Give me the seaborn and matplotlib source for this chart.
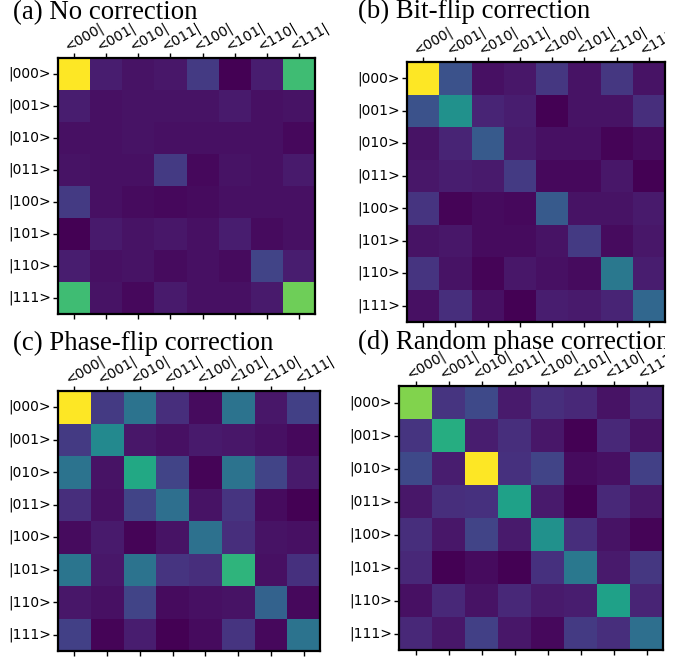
import numpy as np
import pandas as pd
import seaborn as sns
import matplotlib
matplotlib.use("Agg")
import matplotlib.pyplot as plt
from matplotlib.transforms import Bbox, TransformedBbox, ScaledTranslation

# Basis-state labels for the 3-qubit density matrices
bras = ["<000|", "<001|", "<010|", "<011|", "<100|", "<101|", "<110|", "<111|"]
kets = ["|000>", "|001>", "|010>", "|011>", "|100>", "|101>", "|110>", "|111>"]

titles = ["(a) No correction", "(b) Bit-flip correction",
          "(c) Phase-flip correction", "(d) Random phase correction"]

# Normalised matrix magnitudes, rows = kets, columns = bras
no_correction = [
    [1.00, 0.08, 0.05, 0.06, 0.17, 0.00, 0.08, 0.69],
    [0.08, 0.04, 0.05, 0.05, 0.05, 0.07, 0.04, 0.05],
    [0.04, 0.04, 0.05, 0.04, 0.04, 0.04, 0.04, 0.02],
    [0.05, 0.04, 0.04, 0.17, 0.02, 0.05, 0.04, 0.07],
    [0.17, 0.04, 0.03, 0.02, 0.03, 0.04, 0.04, 0.04],
    [0.00, 0.07, 0.05, 0.06, 0.04, 0.08, 0.03, 0.04],
    [0.08, 0.04, 0.05, 0.03, 0.04, 0.03, 0.20, 0.08],
    [0.69, 0.05, 0.02, 0.07, 0.04, 0.04, 0.07, 0.78],
]
bit_flip = [
    [1.00, 0.25, 0.04, 0.06, 0.16, 0.05, 0.16, 0.05],
    [0.25, 0.50, 0.10, 0.08, 0.00, 0.05, 0.05, 0.13],
    [0.05, 0.10, 0.28, 0.07, 0.04, 0.04, 0.01, 0.03],
    [0.06, 0.08, 0.07, 0.17, 0.02, 0.02, 0.06, 0.00],
    [0.15, 0.01, 0.03, 0.02, 0.28, 0.05, 0.05, 0.07],
    [0.05, 0.06, 0.03, 0.03, 0.05, 0.17, 0.03, 0.06],
    [0.15, 0.05, 0.01, 0.06, 0.04, 0.03, 0.40, 0.08],
    [0.04, 0.13, 0.04, 0.00, 0.08, 0.07, 0.10, 0.33],
]
phase_flip = [
    [1.00, 0.17, 0.38, 0.13, 0.03, 0.38, 0.06, 0.19],
    [0.17, 0.47, 0.06, 0.04, 0.07, 0.06, 0.04, 0.02],
    [0.38, 0.05, 0.60, 0.20, 0.01, 0.38, 0.20, 0.07],
    [0.13, 0.04, 0.20, 0.36, 0.05, 0.15, 0.03, 0.00],
    [0.03, 0.07, 0.01, 0.05, 0.37, 0.13, 0.05, 0.04],
    [0.39, 0.06, 0.38, 0.15, 0.13, 0.65, 0.04, 0.14],
    [0.06, 0.04, 0.20, 0.03, 0.04, 0.05, 0.31, 0.02],
    [0.19, 0.01, 0.08, 0.00, 0.03, 0.15, 0.02, 0.38],
]
random_phase = [
    [0.81, 0.15, 0.22, 0.07, 0.13, 0.11, 0.05, 0.11],
    [0.15, 0.62, 0.08, 0.13, 0.06, 0.00, 0.11, 0.05],
    [0.22, 0.08, 1.00, 0.14, 0.20, 0.03, 0.04, 0.19],
    [0.06, 0.13, 0.14, 0.57, 0.07, 0.00, 0.11, 0.06],
    [0.13, 0.06, 0.20, 0.07, 0.50, 0.13, 0.05, 0.01],
    [0.11, 0.00, 0.03, 0.00, 0.14, 0.40, 0.07, 0.16],
    [0.04, 0.11, 0.05, 0.11, 0.07, 0.08, 0.57, 0.10],
    [0.11, 0.06, 0.19, 0.06, 0.02, 0.17, 0.13, 0.36],
]

W, H = 696, 658
fig = plt.figure(figsize=(W / 100, H / 100), dpi=100)
fig.patch.set_facecolor("white")

# axes boxes in pixels: left, top, right, bottom
boxes = [(58, 58, 315, 314), (407, 62, 665, 322),
         (58, 391, 320, 651), (399, 386, 663, 650)]
title_pos = [(13, 19), (358, 18), (13, 350), (358, 349)]
mats = [no_correction, bit_flip, phase_flip, random_phase]
right_clip = TransformedBbox(Bbox([[0, 0], [665 / W, 1]]), fig.transFigure)
shift = ScaledTranslation(-6 / 100, 0, fig.dpi_scale_trans)

for i, (mat, box, ttl, tp) in enumerate(zip(mats, boxes, titles, title_pos)):
    l, t, r, b = box
    ax = fig.add_axes([l / W, (H - b) / H, (r - l) / W, (b - t) / H])
    df = pd.DataFrame(np.array(mat), index=kets, columns=bras)
    sns.heatmap(df, ax=ax, cmap="viridis", cbar=False,
                xticklabels=bras, yticklabels=kets)
    ax.tick_params(axis="x", top=True, bottom=True, labeltop=True,
                   labelbottom=False, length=3.5, width=1.0,
                   labelsize=10, pad=1.5)
    ax.tick_params(axis="y", left=True, right=False, length=3.5, width=1.0,
                   labelsize=10, pad=1.5)
    for lbl in ax.get_xticklabels():
        lbl.set_rotation(30)
        lbl.set_ha("left")
        lbl.set_va("baseline")
        lbl.set_rotation_mode("anchor")
        lbl.set_transform(lbl.get_transform() + shift)
    for lbl in ax.get_yticklabels():
        lbl.set_rotation(0)
        lbl.set_va("center")
    for sp in ax.spines.values():
        sp.set_visible(True)
        sp.set_linewidth(1.6)
        sp.set_color("black")
    txt = fig.text(tp[0] / W, 1 - tp[1] / H, ttl, family="Liberation Serif",
                   fontsize=19.3, ha="left", va="baseline")
    if i in (1, 3):
        for lbl in ax.get_xticklabels():
            lbl.set_clip_box(right_clip)
            lbl.set_clip_on(True)
        txt.set_clip_box(right_clip)
        txt.set_clip_on(True)

fig.savefig("out.png", dpi=100)
